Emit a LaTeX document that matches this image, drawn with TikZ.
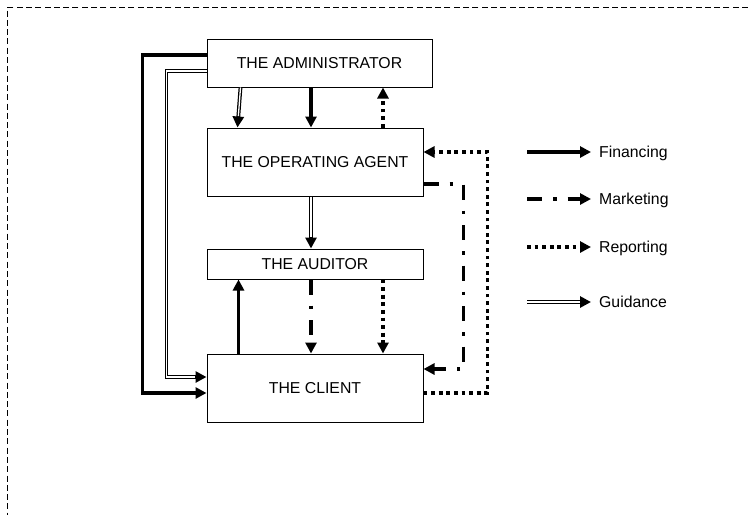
\documentclass[tikz,border=0pt]{standalone}
\usepackage{fontspec}
\setmainfont{Liberation Sans}
\usetikzlibrary{arrows.meta,positioning}

\begin{document}
\begin{tikzpicture}[x=1pt,y=-1pt,
    tip/.style={-{Triangle[length=11pt,width=11pt]}},
    box/.style={draw, line width=1pt, inner sep=0pt, minimum width=216pt,
      font=\fontsize{15.8}{19}\selectfont},
    fin/.style={tip, line width=3.6pt},
    mkt/.style={tip, line width=3.6pt, dash pattern=on 15pt off 11pt on 3.5pt off 11pt},
    rep/.style={tip, line width=3.6pt, dash pattern=on 3.8pt off 3.8pt},
    guide/.style={tip, line width=3.8pt,
      postaction={draw=white, line width=1.3pt, -, shorten >=11.5pt}},
    legend/.style={inner sep=0pt, anchor=west, text height=11.3pt, text depth=0pt,
      font=\fontsize{15.8}{19}\selectfont}]

  \useasboundingbox (0,0) rectangle (748,515);
  \draw[line width=1pt, dash pattern=on 6pt off 3.3pt] (748,7) -- (7.5,7) -- (7.5,515);

  \node[box, minimum width=225pt, minimum height=48pt] (admin) at (319.5,63) {THE ADMINISTRATOR};
  \node[box, minimum height=68pt, below=40pt of admin.south west, anchor=north west] (agent) {THE OPERATING AGENT};
  \node[box, minimum height=30pt, below=52pt of agent.south west, anchor=north west] (auditor) {THE AUDITOR};
  \node[box, minimum height=68pt, below=74pt of auditor.south west, anchor=north west] (client) {THE CLIENT};

  % financing
  \draw[fin] ([yshift=8pt]admin.west) -- ++(-64,0) |- ([yshift=-5pt]client.west);
  \draw[fin] ([xshift=-4pt]agent.north |- admin.south) -- ([xshift=-4pt]agent.north);
  \draw[fin] ([xshift=32pt]client.north west) -- ([xshift=32pt]auditor.south west);

  % marketing
  \draw[mkt] ([xshift=-4pt]auditor.south) -- ([xshift=-4pt]client.north);
  \draw[mkt] ([yshift=-22pt]agent.east) -- ++(40,0) |- ([yshift=19pt]client.east);

  % reporting
  \draw[rep] ([xshift=68pt]agent.north) -- ([xshift=68pt]agent.north |- admin.south);
  \draw[rep] ([xshift=68pt]auditor.south) -- ([xshift=68pt]client.north);
  \draw[rep] ([yshift=-5pt]client.east) -- ++(64,0) |- ([yshift=10pt]agent.east);

  % guidance
  \draw[guide] ([xshift=34pt]admin.south west) -- ([xshift=31pt]agent.north west);
  \draw[guide] ([xshift=-4pt]agent.south) -- ([xshift=-4pt]auditor.north);
  \draw[guide] ([yshift=-8pt]admin.west) -- ++(-40,0) |- ([yshift=11pt]client.west);

  % legend
  \foreach \sty/\txt/\y in {fin/Financing/152, mkt/Marketing/199, rep/Reporting/247, guide/Guidance/302}{
    \node[legend] (key\sty) at (599,\y) {\txt};
    \draw[\sty] ([xshift=-72pt]key\sty.west) -- ([xshift=-8pt]key\sty.west);
  }
\end{tikzpicture}
\end{document}
